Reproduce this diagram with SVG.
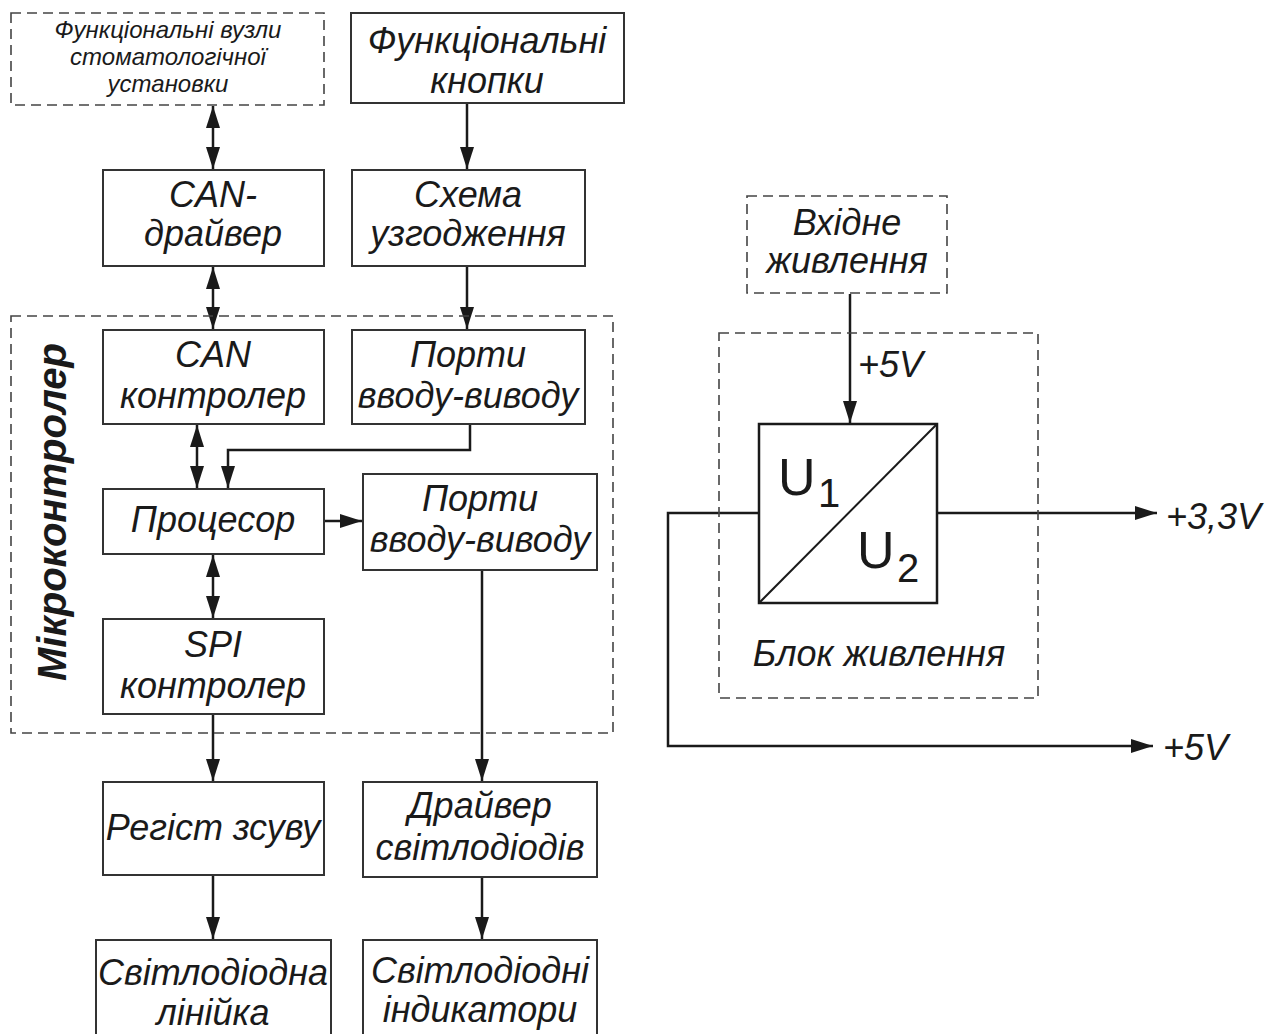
<svg xmlns="http://www.w3.org/2000/svg" width="1269" height="1034" viewBox="0 0 1269 1034">
<defs>
<style>
.box{fill:#fff;stroke:#333;stroke-width:2}
.dash{fill:none;stroke:#444;stroke-width:1.6;stroke-dasharray:10 6}
.ln{fill:none;stroke:#1a1a1a;stroke-width:2.5}
.t{font-family:"Liberation Sans",Arial,sans-serif;font-style:italic;font-size:36px;fill:#1a1a1a;text-anchor:middle}
.ts{font-family:"Liberation Sans",Arial,sans-serif;font-style:italic;font-size:24px;fill:#1a1a1a;text-anchor:middle}
.u{font-family:"Liberation Sans",Arial,sans-serif;font-size:52px;fill:#1a1a1a}
.us{font-family:"Liberation Sans",Arial,sans-serif;font-size:40px;fill:#1a1a1a}
</style>
<marker id="a" viewBox="0 0 22 14" refX="22" refY="7" markerWidth="22" markerHeight="14" markerUnits="userSpaceOnUse" orient="auto-start-reverse">
<path d="M0,0 L22,7 L0,14 z" fill="#1a1a1a"/>
</marker>
</defs>
<rect width="1269" height="1034" fill="#fff"/>

<g id="connectors">
<line class="ln" x1="213" y1="106" x2="213" y2="169" marker-start="url(#a)" marker-end="url(#a)"/>
<line class="ln" x1="467" y1="104" x2="467" y2="169" marker-end="url(#a)"/>
<line class="ln" x1="213" y1="267" x2="213" y2="329" marker-start="url(#a)" marker-end="url(#a)"/>
<line class="ln" x1="467" y1="267" x2="467" y2="329" marker-end="url(#a)"/>
<line class="ln" x1="197" y1="425" x2="197" y2="488" marker-start="url(#a)" marker-end="url(#a)"/>
<polyline class="ln" points="470,425 470,450 228,450 228,488" marker-end="url(#a)"/>
<line class="ln" x1="325" y1="521" x2="362" y2="521" marker-end="url(#a)"/>
<line class="ln" x1="213" y1="555" x2="213" y2="618" marker-start="url(#a)" marker-end="url(#a)"/>
<line class="ln" x1="213" y1="715" x2="213" y2="781" marker-end="url(#a)"/>
<line class="ln" x1="482" y1="571" x2="482" y2="781" marker-end="url(#a)"/>
<line class="ln" x1="213" y1="876" x2="213" y2="939" marker-end="url(#a)"/>
<line class="ln" x1="482" y1="878" x2="482" y2="939" marker-end="url(#a)"/>
<line class="ln" x1="850" y1="294" x2="850" y2="423" marker-end="url(#a)"/>
<polyline class="ln" points="759,513 668,513 668,746 1153,746" marker-end="url(#a)"/>
<line class="ln" x1="937" y1="513" x2="1157" y2="513" marker-end="url(#a)"/>
</g>

<g id="mcu">
<rect class="dash" x="11" y="316" width="602" height="417"/>
<text transform="translate(66,512) rotate(-90)" style="font-family:'Liberation Sans',Arial,sans-serif;font-style:italic;font-weight:bold;font-size:40px;fill:#1a1a1a;text-anchor:middle">Мікроконтролер</text>
</g>

<g id="n-vuzly">
<rect class="dash" x="11" y="13" width="313" height="92"/>
<text class="ts" x="168" y="38">Функціональні вузли</text>
<text class="ts" x="168" y="65">стоматологічної</text>
<text class="ts" x="168" y="92">установки</text>
</g>

<g id="n-knopky">
<rect class="box" x="351" y="13" width="273" height="90"/>
<text class="t" x="487" y="53">Функціональні</text>
<text class="t" x="487" y="93">кнопки</text>
</g>

<g id="n-candriver">
<rect class="box" x="103" y="170" width="221" height="96"/>
<text class="t" x="213" y="207">CAN-</text>
<text class="t" x="213" y="246">драйвер</text>
</g>

<g id="n-skhema">
<rect class="box" x="352" y="170" width="233" height="96"/>
<text class="t" x="468" y="207">Схема</text>
<text class="t" x="468" y="246">узгодження</text>
</g>

<g id="n-cancontr">
<rect class="box" x="103" y="330" width="221" height="94"/>
<text class="t" x="213" y="367">CAN</text>
<text class="t" x="213" y="408">контролер</text>
</g>

<g id="n-porty1">
<rect class="box" x="352" y="330" width="233" height="94"/>
<text class="t" x="468" y="367">Порти</text>
<text class="t" x="468" y="408">вводу-виводу</text>
</g>

<g id="n-procesor">
<rect class="box" x="103" y="489" width="221" height="65"/>
<text class="t" x="213" y="532">Процесор</text>
</g>

<g id="n-porty2">
<rect class="box" x="363" y="474" width="234" height="96"/>
<text class="t" x="480" y="511">Порти</text>
<text class="t" x="480" y="552">вводу-виводу</text>
</g>

<g id="n-spi">
<rect class="box" x="103" y="619" width="221" height="95"/>
<text class="t" x="213" y="657">SPI</text>
<text class="t" x="213" y="698">контролер</text>
</g>

<g id="n-registr">
<rect class="box" x="103" y="782" width="221" height="93"/>
<text class="t" x="213" y="840">Регіст зсуву</text>
</g>

<g id="n-drajver">
<rect class="box" x="363" y="782" width="234" height="95"/>
<text class="t" x="480" y="818">Драйвер</text>
<text class="t" x="480" y="860">світлодіодів</text>
</g>

<g id="n-linijka">
<rect class="box" x="96" y="940" width="235" height="110"/>
<text class="t" x="213" y="985">Світлодіодна</text>
<text class="t" x="213" y="1025">лінійка</text>
</g>

<g id="n-indykatory">
<rect class="box" x="363" y="940" width="234" height="110"/>
<text class="t" x="480" y="983">Світлодіодні</text>
<text class="t" x="480" y="1022">індикатори</text>
</g>

<g id="n-vhidne">
<rect class="dash" x="747" y="196" width="200" height="97"/>
<text class="t" x="847" y="235">Вхідне</text>
<text class="t" x="847" y="273">живлення</text>
</g>

<g id="n-blok">
<rect class="dash" x="719" y="333" width="319" height="365"/>
<text class="t" x="879" y="666">Блок живлення</text>
</g>

<g id="n-converter">
<rect x="759" y="424" width="178" height="179" fill="none" stroke="#1a1a1a" stroke-width="2.5"/>
<line x1="759" y1="603" x2="937" y2="424" stroke="#1a1a1a" stroke-width="2"/>
<text class="u" x="778" y="495">U</text>
<text class="us" x="818" y="507">1</text>
<text class="u" x="857" y="568">U</text>
<text class="us" x="897" y="582">2</text>
</g>

<g id="labels">
<text class="t" x="858" y="377" style="text-anchor:start">+5V</text>
<text class="t" x="1166" y="529" style="text-anchor:start">+3,3V</text>
<text class="t" x="1163" y="760" style="text-anchor:start">+5V</text>
</g>
</svg>
